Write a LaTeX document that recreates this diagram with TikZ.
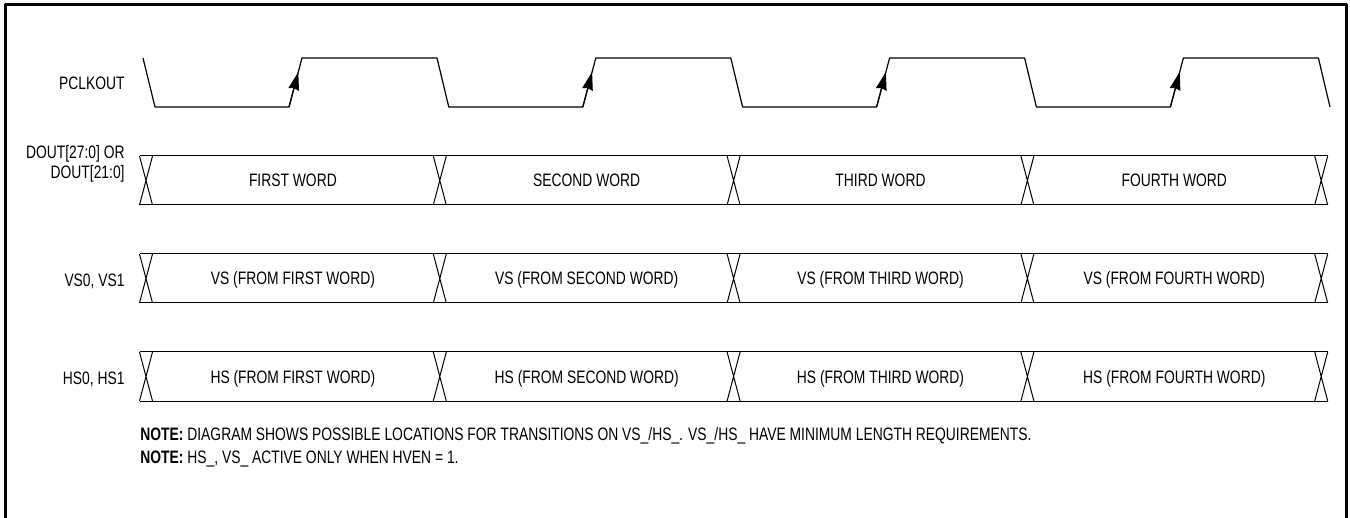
\documentclass[tikz,border=0pt]{standalone}
\usepackage{fontspec}
\setmainfont{Liberation Sans}[FakeStretch=0.77]
\usetikzlibrary{arrows.meta}
\begin{document}
\begin{tikzpicture}[x=0.5pt, y=-0.5pt, font=\fontsize{9}{9.8}\selectfont, line join=round, every node/.style={inner sep=0pt}, >={Stealth[length=9pt,width=5.4pt,inset=0.6pt]}]
	\useasboundingbox (0,0) rectangle (1350,518);
	\def\per{293.8}% period of the clock
	\def\hw{6.5}% half width of a crossing
	\def\bh{49}% height of a bus
	\def\bus#1{%
		\draw[line width=0.5pt] (139.5,#1)--(1327.7,#1) (139.5,{#1+\bh})--(1327.7,{#1+\bh});
		\foreach \k in {0,...,4}
			\draw[line width=0.5pt] ({146+\per*\k-\hw},#1)--({146+\per*\k+\hw},{#1+\bh}) ({146+\per*\k-\hw},{#1+\bh})--({146+\per*\k+\hw},#1);}
	% frame, open at the bottom
	\draw[line width=1.1pt] (5.5,518)--(5.5,4.5)--(1346.5,4.5)--(1346.5,518);
	% PCLKOUT
	\node[anchor=base east] (pclk) at (125,89.5) {PCLKOUT};
	\draw[line width=0.6pt] (143,58) \foreach \k in {0,...,3}{--({155+\per*\k},107)--({289+\per*\k},107)--({302+\per*\k},58)--({437+\per*\k},58)}--(1330,107);
	\foreach \k in {0,...,3}
		\draw[->, line width=0.6pt] ({289+\per*\k},107)--({298.3+\per*\k},72);
	% DOUT
	\node[anchor=base east, align=right] (dout) at (125,178.3) {DOUT[27:0] OR\\DOUT[21:0]};
	\bus{156}
	% VS
	\node[anchor=base east] (vs) at (125,287) {VS0, VS1};
	\bus{254}
	% HS
	\node[anchor=base east] (hs) at (125,385) {HS0, HS1};
	\bus{352}
	\foreach \i/\w in {0/FIRST,1/SECOND,2/THIRD,3/FOURTH}{
		\node[anchor=base] (dw\i) at ({146+\per*(\i+0.5)},187) {\w\ WORD};
		\node[anchor=base] (vw\i) at ({146+\per*(\i+0.5)},285) {VS (FROM \w\ WORD)};
		\node[anchor=base] (hw\i) at ({146+\per*(\i+0.5)},383.5) {HS (FROM \w\ WORD)};
	}
	% notes
	\node[anchor=base west] (note1) at (140,440.7) {\textbf{NOTE:} DIAGRAM SHOWS POSSIBLE LOCATIONS FOR TRANSITIONS ON VS\_/HS\_. VS\_/HS\_ HAVE MINIMUM LENGTH REQUIREMENTS.};
	\node[anchor=base west] (note2) at (140,463.3) {\textbf{NOTE:} HS\_, VS\_ ACTIVE ONLY WHEN HVEN = 1.};
\end{tikzpicture}
\end{document}
